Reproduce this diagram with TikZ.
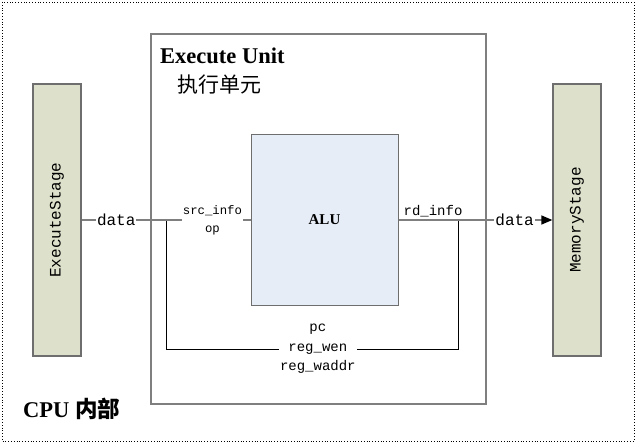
\documentclass[tikz,border=0pt]{standalone}
\usepackage{fontspec}
\setmainfont{Liberation Serif}
\newfontfamily\cjk{Noto Sans CJK SC}
\newfontfamily\mono{Liberation Mono}
\usetikzlibrary{arrows.meta}
\definecolor{stagefill}{HTML}{DDE0CA}
\definecolor{alufill}{HTML}{E6EDF7}
\definecolor{edgegray}{HTML}{6E6E6E}
\definecolor{linegray}{HTML}{7F7F7F}
\begin{document}
\begin{tikzpicture}[x=1pt,y=-1pt,
  stagebox/.style={draw=edgegray,line width=1.3pt,fill=stagefill,minimum width=48pt,minimum height=272pt,inner sep=0pt},
  stagetext/.style={rotate=90,font=\mono\fontsize{16}{16}\selectfont},
  unitbox/.style={draw=linegray,line width=1.3pt,minimum width=335pt,minimum height=370pt,inner sep=0pt},
  alubox/.style={draw=edgegray,line width=1pt,fill=alufill,minimum width=147pt,minimum height=170pt,inner sep=0pt,font=\bfseries\fontsize{15}{15}\selectfont},
  mainline/.style={draw=linegray,line width=1.5pt},
  loopline/.style={draw=black,line width=0.9pt},
  biglabel/.style={fill=white,inner sep=1pt,font=\mono\fontsize{16}{16}\selectfont},
  smalllabel/.style={fill=white,inner sep=1pt,align=center,font=\mono\fontsize{12.3}{18}\selectfont},
  midlabel/.style={inner sep=1pt,align=center,font=\mono\fontsize{14}{19.5}\selectfont},
  title/.style={font=\bfseries\fontsize{22.5}{22.5}\selectfont,anchor=base west,inner sep=0pt}
]
\useasboundingbox (0,0) rectangle (638,444);
\draw[dotted,line width=0.8pt] (2,2) rectangle (634,441);

\node[unitbox] (eu) at (318.5,219) {};
\node[stagebox] (exst) at (57,220) {};
\node[stagetext] (exsttext) at (exst.center) {ExecuteStage};
\node[stagebox] (mest) at (577,220) {};
\node[stagetext] (mesttext) at (mest.center) {MemoryStage};
\node[alubox] (alu) at (324.5,220) {ALU};

\node[title] (eutitle) at (160,64) {Execute Unit};
\node[title,font=\cjk\fontsize{21}{21}\selectfont] (eucn) at (177,93) {执行单元};
\node[title] (cpu) at (23,417) {CPU {\cjk 内部}};

\coordinate (j1) at (166,220);
\coordinate (j2) at (458,220);
\coordinate (b1) at (166,349);
\coordinate (b2) at (458,349);

\draw[loopline] (j1) -- (b1) -- node[midlabel,fill=white,pos=0.52] (regs) {pc\\reg\_wen\\reg\_waddr} (b2) -- (j2);

\draw[mainline] (exst.east) -- node[biglabel,pos=0.41] (d1) {data} (j1)
  -- node[smalllabel,pos=0.55] (src) {src\_info\\op} (alu.west);
\draw[mainline,-{Triangle[length=11pt,width=9pt,color=black]}] (alu.east) -- node[midlabel,above=1pt,pos=0.58] (rd) {rd\_info} (j2)
  -- node[biglabel,pos=0.6] (d2) {data} (mest.west);
\end{tikzpicture}
\end{document}
